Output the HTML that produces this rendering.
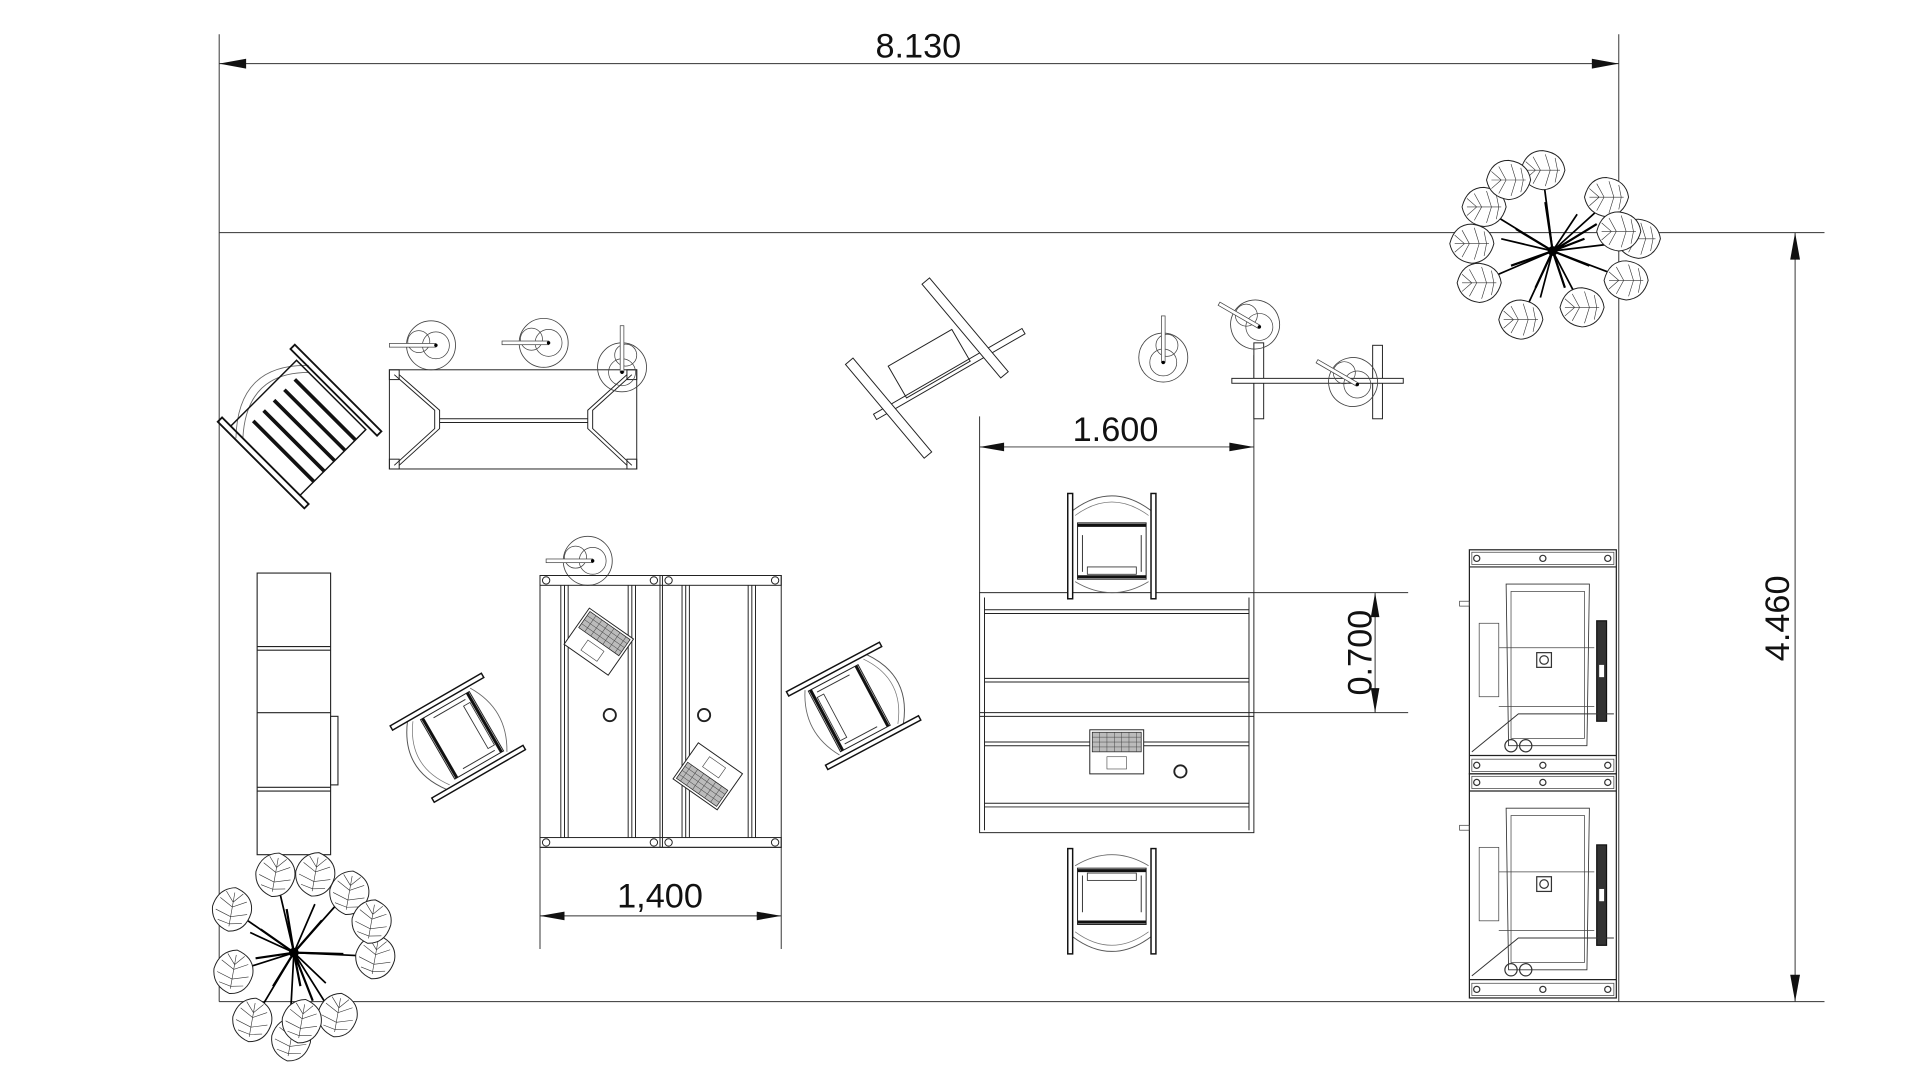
<!DOCTYPE html>
<html><head><meta charset="utf-8"><style>
html,body{margin:0;padding:0;background:#fff;}
svg{display:block;}
text{font-family:"Liberation Sans",sans-serif;fill:#111;}
</style></head><body>
<svg width="1920" height="1080" viewBox="0 0 1568 882" preserveAspectRatio="none" xmlns="http://www.w3.org/2000/svg">
<defs>
<symbol id="chair" overflow="visible">
  <path d="M-32,-28 Q0,-52 32,-28" fill="none" stroke="#555" stroke-width="0.8"/>
  <path d="M-30,-24 Q0,-46 30,-24" fill="none" stroke="#777" stroke-width="0.6"/>
  <rect x="-36" y="-42" width="4" height="86" fill="#fff" stroke="#111" stroke-width="1.2"/>
  <rect x="32" y="-42" width="4" height="86" fill="#fff" stroke="#111" stroke-width="1.2"/>
  <rect x="-28" y="-18" width="56" height="46" fill="none" stroke="#222" stroke-width="0.8"/>
  <line x1="-28" y1="-16" x2="28" y2="-16" stroke="#111" stroke-width="2.5"/>
  <line x1="-28" y1="26" x2="28" y2="26" stroke="#111" stroke-width="2.5"/>
  <line x1="-24" y1="-8" x2="-24" y2="22" stroke="#333" stroke-width="0.8"/>
  <line x1="24" y1="-8" x2="24" y2="22" stroke="#333" stroke-width="0.8"/>
  <rect x="-20" y="18" width="40" height="6" fill="none" stroke="#333" stroke-width="0.7"/>
  <path d="M-30,30 Q0,48 30,30" fill="none" stroke="#666" stroke-width="0.7"/>
</symbol>
<symbol id="stool" overflow="visible">
  <circle cx="0" cy="0" r="20" fill="none" stroke="#444" stroke-width="0.7"/>
  <circle cx="-10" cy="-3" r="9" fill="none" stroke="#444" stroke-width="0.6"/>
  <circle cx="4" cy="0" r="11" fill="none" stroke="#444" stroke-width="0.6"/>
  <rect x="-34" y="-1.5" width="38" height="3" fill="#fff" stroke="#444" stroke-width="0.6"/>
  <circle cx="4" cy="0" r="1.4" fill="#000"/>
</symbol>
<symbol id="leaf" overflow="visible">
  <path d="M-18,0 Q-14,-16 0,-16 Q16,-14 18,0 Q14,15 0,16 Q-15,14 -18,0 Z" fill="#fff" stroke="#222" stroke-width="0.8"/>
  <path d="M-14,0 L14,0 M-8,-11 L-2,0 L-8,11 M2,-13 L6,0 L2,13 M-14,-7 L-6,0 M-14,7 L-6,0 M10,-10 L12,0 L10,10" fill="none" stroke="#333" stroke-width="0.5"/>
</symbol>
<symbol id="plant" overflow="visible">
  <g stroke="#000" stroke-width="1.4" fill="none">
   <path d="M0,0 L-52,-32 M0,0 L-8,-62 M0,0 L42,-38 M0,0 L66,-8 M0,0 L58,22 M0,0 L22,42 M0,0 L-24,52 M0,0 L-56,24 M0,0 L-42,-10 M0,0 L20,-30 M0,0 L-10,38"/>
  </g>
  <use href="#leaf" x="-56" y="-36"/><use href="#leaf" x="-8" y="-66"/><use href="#leaf" x="44" y="-44"/>
  <use href="#leaf" x="70" y="-10"/><use href="#leaf" x="60" y="24"/><use href="#leaf" x="24" y="46"/>
  <use href="#leaf" x="-26" y="56"/><use href="#leaf" x="-60" y="26"/><use href="#leaf" x="-66" y="-6"/>
  <use href="#leaf" x="-36" y="-58"/><use href="#leaf" x="54" y="-16"/>
  <g stroke="#000" stroke-width="1.8" fill="none">
   <path d="M0,0 L-30,-18 M0,0 L30,12 M0,0 L-6,-40 M0,0 L10,30 M0,0 L-34,12 M0,0 L36,-22 M0,0 L-14,30 M0,0 L26,-10"/>
  </g>
  <circle cx="0" cy="0" r="4" fill="#000"/>
</symbol>
<symbol id="laptop" overflow="visible">
  <rect x="-22" y="-18" width="44" height="36" fill="#fff" stroke="#222" stroke-width="0.8"/>
  <rect x="-20" y="-16" width="40" height="16" fill="#bbb" stroke="#222" stroke-width="0.6"/>
  <path d="M-20,-12 H20 M-20,-8 H20 M-20,-4 H20 M-14,-16 V0 M-8,-16 V0 M-2,-16 V0 M4,-16 V0 M10,-16 V0 M16,-16 V0" stroke="#444" stroke-width="0.4"/>
  <rect x="-8" y="4" width="16" height="10" fill="none" stroke="#444" stroke-width="0.5"/>
</symbol>
<symbol id="cab" overflow="visible">
  <rect x="0" y="0" width="120" height="183" fill="#fff" stroke="#222" stroke-width="1"/>
  <rect x="2" y="2" width="116" height="10" fill="none" stroke="#444" stroke-width="0.6"/>
  <rect x="2" y="171" width="116" height="10" fill="none" stroke="#444" stroke-width="0.6"/>
  <line x1="0" y1="14" x2="120" y2="14" stroke="#222" stroke-width="1"/>
  <line x1="0" y1="168" x2="120" y2="168" stroke="#222" stroke-width="1"/>
  <circle cx="6" cy="7" r="2.5" fill="none" stroke="#333"/><circle cx="60" cy="7" r="2.5" fill="none" stroke="#333"/><circle cx="113" cy="7" r="2.5" fill="none" stroke="#333"/>
  <circle cx="6" cy="176" r="2.5" fill="none" stroke="#333"/><circle cx="60" cy="176" r="2.5" fill="none" stroke="#333"/><circle cx="113" cy="176" r="2.5" fill="none" stroke="#333"/>
  <path d="M30,28 H98 L96,160 H32 Z" fill="none" stroke="#333" stroke-width="0.7"/>
  <rect x="34" y="34" width="60" height="120" fill="none" stroke="#444" stroke-width="0.6"/>
  <rect x="8" y="60" width="16" height="60" fill="none" stroke="#444" stroke-width="0.6"/>
  <line x1="24" y1="80" x2="102" y2="80" stroke="#444" stroke-width="0.6"/>
  <line x1="24" y1="128" x2="102" y2="128" stroke="#444" stroke-width="0.6"/>
  <rect x="55" y="84" width="12" height="12" fill="none" stroke="#333"/><circle cx="61" cy="90" r="3.5" fill="none" stroke="#333"/>
  <rect x="104" y="58" width="8" height="82" fill="#333" stroke="#111"/>
  <rect x="106" y="94" width="4" height="10" fill="#fff"/>
  <path d="M2,165 L40,134 H118" fill="none" stroke="#333" stroke-width="0.8"/>
  <circle cx="34" cy="160" r="5" fill="none" stroke="#333"/><circle cx="46" cy="160" r="5" fill="none" stroke="#333"/>
  <rect x="-8" y="42" width="8" height="4" fill="none" stroke="#444" stroke-width="0.6"/>
</symbol>
</defs>

<g stroke="#333" stroke-width="0.8" fill="none">
  <line x1="179" y1="28" x2="179" y2="818"/>
  <line x1="1322" y1="28" x2="1322" y2="818"/>
  <line x1="179" y1="52" x2="1322" y2="52"/>
  <line x1="179" y1="190" x2="1490" y2="190"/>
  <line x1="179" y1="818" x2="1490" y2="818"/>
  <line x1="1466" y1="190" x2="1466" y2="818"/>
  <line x1="800" y1="340" x2="800" y2="484"/>
  <line x1="1024" y1="290" x2="1024" y2="484"/>
  <line x1="800" y1="365" x2="1024" y2="365"/>
  <line x1="1024" y1="484" x2="1150" y2="484"/>
  <line x1="1024" y1="582" x2="1150" y2="582"/>
  <line x1="1123" y1="484" x2="1123" y2="582"/>
  <line x1="441" y1="692" x2="441" y2="775"/>
  <line x1="638" y1="692" x2="638" y2="775"/>
  <line x1="441" y1="748" x2="638" y2="748"/>
</g>
<g fill="#111">
  <path d="M179,52 l22,-4 v8 z"/><path d="M1322,52 l-22,-4 v8 z"/>
  <path d="M1466,190 l-4,22 h8 z"/><path d="M1466,818 l-4,-22 h8 z"/>
  <path d="M800,365 l20,-3.5 v7 z"/><path d="M1024,365 l-20,-3.5 v7 z"/>
  <path d="M1123,484 l-3.5,20 h7 z"/><path d="M1123,582 l-3.5,-20 h7 z"/>
  <path d="M441,748 l20,-3.5 v7 z"/><path d="M638,748 l-20,-3.5 v7 z"/>
</g>
<text x="750" y="47" font-size="28" text-anchor="middle">8.130</text>
<text x="911" y="360" font-size="28" text-anchor="middle">1.600</text>
<text x="539" y="741" font-size="28" text-anchor="middle">1,400</text>
<text transform="translate(1120,533) rotate(-90)" font-size="28" text-anchor="middle">0.700</text>
<text transform="translate(1461,505) rotate(-90)" font-size="28" text-anchor="middle">4.460</text>

<g stroke="#222" stroke-width="0.8" fill="none">
  <rect x="318" y="302" width="202" height="81"/>
  <path d="M322,306 L355,335 V350 L322,380 M516,306 L484,335 V350 L516,380"/>
  <path d="M326,306 L359,335 V350 L326,380 M512,306 L480,335 V350 L512,380"/>
  <line x1="359" y1="342" x2="480" y2="342"/><line x1="359" y1="345" x2="480" y2="345"/>
  <rect x="318" y="302" width="8" height="8"/><rect x="512" y="302" width="8" height="8"/>
  <rect x="318" y="375" width="8" height="8"/><rect x="512" y="375" width="8" height="8"/>
</g>
<use href="#stool" x="352" y="282"/>
<use href="#stool" x="444" y="280"/>
<use href="#stool" transform="translate(508,300) rotate(90)"/>
<use href="#stool" x="480" y="458"/>

<!-- armchair top-left -->
<g transform="translate(245,348) rotate(45)" stroke="#111" fill="none">
  <path d="M-30,-40 Q-72,0 -30,44" stroke="#666" stroke-width="0.7"/>
  <path d="M-26,-36 Q-62,0 -26,40" stroke="#666" stroke-width="0.7"/>
  <rect x="-40" y="-36" width="80" height="76" stroke-width="1.2"/>
  <g stroke-width="3"><line x1="-30" y1="-24" x2="40" y2="-24"/><line x1="-30" y1="-12" x2="40" y2="-12"/><line x1="-30" y1="0" x2="40" y2="0"/><line x1="-30" y1="12" x2="40" y2="12"/><line x1="-30" y1="24" x2="40" y2="24"/></g>
  <rect x="-50" y="-44" width="100" height="5" stroke-width="1.5"/>
  <rect x="-50" y="40" width="100" height="5" stroke-width="1.5"/>
</g>

<g stroke="#222" stroke-width="0.9" fill="#fff">
  <rect x="210" y="468" width="60" height="230"/>
  <line x1="210" y1="528" x2="270" y2="528"/><line x1="210" y1="531" x2="270" y2="531"/>
  <line x1="210" y1="582" x2="270" y2="582"/>
  <line x1="210" y1="643" x2="270" y2="643"/><line x1="210" y1="646" x2="270" y2="646"/>
  <rect x="270" y="585" width="6" height="56"/>
</g>

<g stroke="#222" stroke-width="0.8" fill="none">
  <rect x="441" y="470" width="197" height="222"/>
  <line x1="539" y1="470" x2="539" y2="692"/><line x1="541" y1="470" x2="541" y2="692"/>
  <rect x="441" y="470" width="197" height="8"/><rect x="441" y="684" width="197" height="8"/>
  <path d="M458,478 V684 M461,478 V684 M464,478 V684 M513,478 V684 M516,478 V684 M519,478 V684 M557,478 V684 M560,478 V684 M563,478 V684 M611,478 V684 M614,478 V684 M617,478 V684"/>
  <circle cx="446" cy="474" r="3"/><circle cx="534" cy="474" r="3"/><circle cx="546" cy="474" r="3"/><circle cx="633" cy="474" r="3"/>
  <circle cx="446" cy="688" r="3"/><circle cx="534" cy="688" r="3"/><circle cx="546" cy="688" r="3"/><circle cx="633" cy="688" r="3"/>
  <circle cx="498" cy="584" r="5" stroke-width="1.5"/><circle cx="575" cy="584" r="5" stroke-width="1.5"/>
</g>
<use href="#laptop" transform="translate(489,524) rotate(35)"/>
<use href="#laptop" transform="translate(578,634) rotate(215)"/>
<use href="#chair" transform="translate(373,603) rotate(-120)"/>
<use href="#chair" transform="translate(698,576) rotate(62)"/>

<g stroke="#222" stroke-width="0.8" fill="none">
  <rect x="800" y="484" width="224" height="196"/>
  <line x1="800" y1="582" x2="1024" y2="582"/><line x1="800" y1="585" x2="1024" y2="585"/>
  <path d="M804,498 H1020 M804,501 H1020 M804,554 H1020 M804,557 H1020 M804,606 H1020 M804,609 H1020 M804,656 H1020 M804,659 H1020"/>
  <path d="M804,488 V678 M1020,488 V678"/>
  <circle cx="964" cy="630" r="5" stroke-width="1.5"/>
</g>
<use href="#laptop" x="912" y="614"/>
<use href="#chair" x="908" y="445"/>
<use href="#chair" transform="translate(908,737) rotate(180)"/>

<g stroke="#222" stroke-width="0.8" fill="#fff">
  <g transform="translate(775,305) rotate(-30)">
    <rect x="-70" y="-2" width="140" height="5"/>
    <rect x="-40" y="-30" width="60" height="30" fill="none"/>
    <rect x="-60" y="-60" width="8" height="100" transform="rotate(-10)"/>
    <rect x="30" y="-70" width="8" height="100" transform="rotate(-10)"/>
  </g>
  <rect x="1024" y="280" width="8" height="62"/>
  <rect x="1121" y="282" width="8" height="60"/>
  <rect x="1006" y="309" width="140" height="4"/>
</g>
<use href="#stool" transform="translate(950,292) rotate(90)"/>
<use href="#stool" transform="translate(1025,265) rotate(30)"/>
<use href="#stool" transform="translate(1105,312) rotate(30)"/>

<use href="#cab" x="1200" y="449"/>
<use href="#cab" x="1200" y="632"/>

<use href="#plant" x="1268" y="205"/>
<use href="#plant" transform="translate(240,778) rotate(100)"/>
</svg>
</body></html>
